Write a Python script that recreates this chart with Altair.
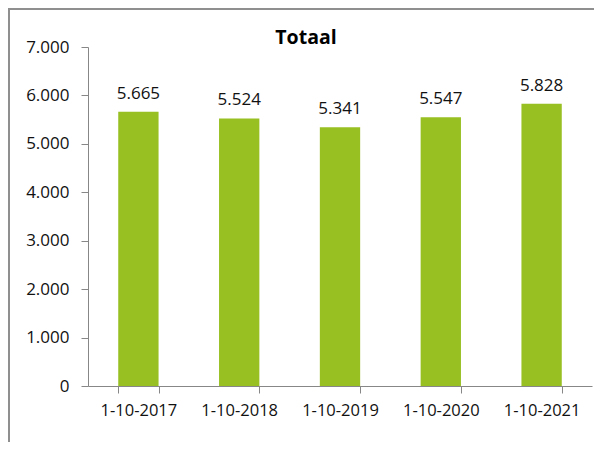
import altair as alt
import pandas as pd

categories = ["1-10-2017", "1-10-2018", "1-10-2019", "1-10-2020", "1-10-2021"]
values = [5665, 5524, 5341, 5547, 5828]
y_ticks = [0, 1000, 2000, 3000, 4000, 5000, 6000, 7000]
title_text = "Totaal"

df = pd.DataFrame({"datum": categories, "aantal": values})

FONT = "Open Sans"
GREEN = "#98C022"
AXIS_GREY = "#878787"
TEXT = "#111111"

fmt = "replace(format(datum.value, ',d'), ',', '.')"

base = alt.Chart(df)

bars = base.mark_bar(color=GREEN).encode(
    x=alt.X("datum:N", sort=categories, title=None,
            scale=alt.Scale(paddingInner=0.6, paddingOuter=0.3),
            axis=alt.Axis(labelAngle=0, tickBand="extent", tickSize=7,
                          labelPadding=9, domainColor=AXIS_GREY, tickColor=AXIS_GREY,
                          labelFont=FONT, labelFontSize=16.5, labelColor=TEXT)),
    y=alt.Y("aantal:Q", title=None,
            scale=alt.Scale(domain=[0, 7000], nice=False),
            axis=alt.Axis(values=y_ticks, grid=False, tickSize=7, labelPadding=12,
                          labelExpr=fmt, domainColor=AXIS_GREY, tickColor=AXIS_GREY,
                          labelFont=FONT, labelFontSize=17, labelColor=TEXT)),
)

labels = base.transform_calculate(
    lbl="replace(format(datum.aantal, ',d'), ',', '.')"
).mark_text(font=FONT, fontSize=17, color=TEXT, baseline="alphabetic", dy=-13).encode(
    x=alt.X("datum:N", sort=categories),
    y=alt.Y("aantal:Q"),
    text="lbl:N",
)

title = alt.Chart(pd.DataFrame({"t": [title_text]})).mark_text(
    font=FONT, fontSize=19.5, fontWeight="bold", color="#000000", baseline="alphabetic"
).encode(x=alt.value(218), y=alt.value(-3), text="t:N")

frame_left = alt.Chart(pd.DataFrame({"k": [0]})).mark_rule(
    color="#8F8F8F", strokeWidth=2, clip=False
).encode(x=alt.value(-79), y=alt.value(-39), y2=alt.value(400))

frame_top = alt.Chart(pd.DataFrame({"k": [0]})).mark_rule(
    color="#8F8F8F", strokeWidth=2, clip=False
).encode(x=alt.value(-80), x2=alt.value(506), y=alt.value(-38))

chart = alt.layer(bars, labels, title, frame_left, frame_top).properties(
    width=504, height=339,
    autosize=alt.AutoSizeParams(type="none"),
    padding={"left": 80, "top": 39, "right": 2, "bottom": 56},
).configure_view(stroke=None)

chart.save("out.html", embed_options={"renderer": "svg", "actions": False})
